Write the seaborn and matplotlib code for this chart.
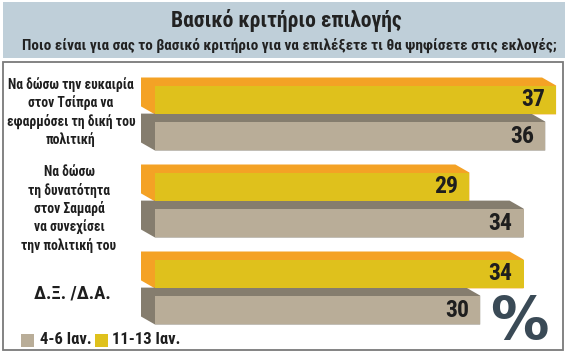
import pandas as pd
import matplotlib
matplotlib.use("Agg")
import matplotlib.pyplot as plt
from matplotlib import font_manager as fm
from matplotlib.patches import Rectangle, Polygon
from matplotlib.transforms import IdentityTransform
import seaborn as sns

# Data
categories = [
    "Να δώσω την ευκαιρία\nστον Τσίπρα να\nεφαρμόσει τη δική του\nπολιτική",
    "Να δώσω\nτη δυνατότητα\nστον Σαμαρά\nνα συνεχίσει\nτην πολιτική του",
    "Δ.Ξ. /Δ.Α.",
]
periods = ["11-13 Ιαν.", "4-6 Ιαν."]
jan_11_13 = [37, 29, 34]
jan_4_6 = [36, 34, 30]

df = pd.DataFrame({
    "category": categories * 2,
    "period": [periods[0]] * 3 + [periods[1]] * 3,
    "value": jan_11_13 + jan_4_6,
})

W, H = 570, 357
front = {periods[0]: "#dfc11c", periods[1]: "#b9ad98"}
side = {"#dfc11c": "#f4a225", "#b9ad98": "#857d6e"}

# pick a condensed family that is installed
installed = {f.name for f in fm.fontManager.ttflist}
candidates = ["Roboto Condensed", "Fira Sans Condensed", "Open Sans Condensed",
              "Ubuntu Condensed", "Liberation Sans Narrow"]
FONT = [c for c in candidates if c in installed][:1] + ["DejaVu Sans"]

sns.set_theme(style="white")
plt.rcParams["font.family"] = FONT

fig = plt.figure(figsize=(W / 100, H / 100), dpi=100)
fig.patch.set_facecolor("white")

# header band and frame (behind the axes)
fig.patches.append(Rectangle((3 / W, 1 - 58 / H), 562 / W, 56 / H,
                             transform=fig.transFigure, facecolor="#BFCFD9",
                             edgecolor="none", zorder=-2))
fig.patches.append(Rectangle((3 / W, 1 - 350 / H), 560 / W, 288 / H,
                             transform=fig.transFigure, facecolor="white",
                             edgecolor="#7A7A7A", linewidth=1.3, zorder=-2))

fig.text(286 / W, 1 - 20 / H, "Βασικό κριτήριο επιλογής", ha="center", va="center",
         fontsize=15.5, fontweight="bold", color="#222222")
fig.text(289 / W, 1 - 45 / H,
         "Ποιο είναι για σας το βασικό κριτήριο για να επιλέξετε τι θα ψηφίσετε στις εκλογές;",
         ha="center", va="center", fontsize=11, fontweight="bold", color="#222222")

x0, top, bottom = 155, 74.5, 335.5
xmax = (563 - x0) / 10.84
ax = fig.add_axes([x0 / W, 1 - bottom / H, (563 - x0) / W, (bottom - top) / H])
ax.patch.set_alpha(0)

sns.barplot(data=df, y="category", x="value", hue="period", hue_order=periods,
            palette=front, orient="h", width=0.83, gap=0.2, legend=False,
            saturation=1, ax=ax, zorder=3)
ax.set_xlim(0, xmax)
ax.set_ylim(2.5, -0.5)
ax.set_axis_off()

# 3D extrusion behind each bar, derived from bar geometry
dx, dy = -14, 8
for p in list(ax.patches):
    (bx0, by0), (bx1, by1) = ax.transData.transform(
        [(p.get_x(), p.get_y()), (p.get_x() + p.get_width(), p.get_y() + p.get_height())])
    yb, yt = min(by0, by1), max(by0, by1)
    color = side.get(matplotlib.colors.to_hex(p.get_facecolor()), "#857d6e")
    poly = Polygon([(bx0, yb), (bx0 + dx, yb + dy), (bx0 + dx, yt + dy),
                    (bx1 + dx, yt + dy), (bx1, yt), (bx1, yb)],
                   closed=True, facecolor=color, edgecolor="none",
                   transform=IdentityTransform(), zorder=1, clip_on=False)
    ax.add_artist(poly)
    p.set_edgecolor("none")
ax.set_xlim(0, xmax)
ax.set_ylim(2.5, -0.5)

# value labels
for i, lvl in enumerate(periods):
    vals = jan_11_13 if i == 0 else jan_4_6
    for j, v in enumerate(vals):
        yc = j + (-0.2075 if i == 0 else 0.2075)
        ax.annotate(str(v), xy=(v, yc), xytext=(-8, 0), textcoords="offset points",
                    ha="right", va="center", fontsize=17, fontweight="bold",
                    color="#1E1E1E", zorder=5)

# category labels
label_pos = [(71, 112, 9.8), (69, 209, 9.8), (72, 293, 13.5)]
for lab, (lx, ly, fs) in zip(categories, label_pos):
    fig.text(lx / W, 1 - ly / H, lab, ha="center", va="center", fontsize=fs,
             fontweight="bold", color="#1E1E1E", linespacing=1.3)

# legend
fig.patches.append(Rectangle((21 / W, 1 - 347 / H), 13 / W, 13 / H, transform=fig.transFigure,
                             facecolor=front[periods[1]], edgecolor="none"))
fig.text(40 / W, 1 - 340 / H, periods[1], ha="left", va="center", fontsize=12,
         fontweight="bold", color="#1E1E1E")
fig.patches.append(Rectangle((95 / W, 1 - 347 / H), 13 / W, 13 / H, transform=fig.transFigure,
                             facecolor=front[periods[0]], edgecolor="none"))
fig.text(112 / W, 1 - 340 / H, periods[0], ha="left", va="center", fontsize=12,
         fontweight="bold", color="#1E1E1E")

fig.text(519 / W, 1 - 322 / H, "%", ha="center", va="center", fontsize=42,
         fontweight="bold", color="#3A4A56", family=["DejaVu Sans"])

fig.savefig("out.png", dpi=100)
